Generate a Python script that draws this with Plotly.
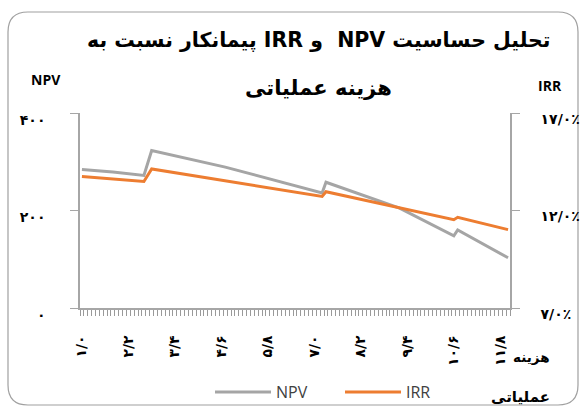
import plotly.graph_objects as go

# ---------------- data ----------------
cost = [1.0, 1.8, 2.6, 2.8, 4.7, 7.2, 7.3, 9.2, 10.6, 10.7, 12.0]
npv = [284, 279, 272, 323, 289, 236, 258, 205, 148, 160, 103]
irr = [13.75, 13.62, 13.49, 14.13, 13.52, 12.72, 12.96, 12.13, 11.53, 11.65, 11.02]

x_tickvals = [1.0, 2.2, 3.4, 4.6, 5.8, 7.0, 8.2, 9.4, 10.6, 11.8]
x_ticktext = ["۱/۰", "۲/۲", "۳/۴", "۴/۶", "۵/۸", "۷/۰", "۸/۲", "۹/۴", "۱۰/۶", "۱۱/۸"]
npv_tickvals = [0, 200, 400]
npv_ticktext = ["۰", "۲۰۰", "۴۰۰"]
irr_tickvals = [7, 12, 17]
irr_ticktext = ["۷/۰٪", "۱۲/۰٪", "۱۷/۰٪"]

title_line1 = "تحلیل حساسیت NPV  و IRR پیمانکار نسبت به"
title_line2 = "هزینه عملیاتی"
x_title_1 = "هزینه"
x_title_2 = "عملیاتی"

# ---------------- layout geometry ----------------
W, H = 586, 409
L, R, T, B = 80, 76, 113, 101
PW, PH = W - L - R, H - T - B
X_RANGE = [0.95, 12.05]

def px(xp, yp):
    return (xp - L) / PW, 1 - (yp - T) / PH

GRAY = "#a5a5a5"
ORANGE = "#ed7d31"
AXIS = "#a6a6a6"
TXT = "#000000"
FONT = "DejaVu Sans, Noto Sans, sans-serif"
RLE, PDF = "\u202B", "\u202C"

fig = go.Figure()
fig.add_trace(go.Scatter(x=cost, y=npv, name="NPV", mode="lines",
                         line=dict(color=GRAY, width=3), yaxis="y"))
fig.add_trace(go.Scatter(x=cost, y=irr, name="IRR", mode="lines",
                         line=dict(color=ORANGE, width=3), yaxis="y2"))

# rounded border
x0, y0, x1, y1, r = 8, 12, 578, 405, 20
def P(a, b):
    u, v = px(a, b)
    return f"{u:.5f},{v:.5f}"
path = (f"M {P(x0+r,y0)} L {P(x1-r,y0)} Q {P(x1,y0)} {P(x1,y0+r)} "
        f"L {P(x1,y1-r)} Q {P(x1,y1)} {P(x1-r,y1)} L {P(x0+r,y1)} "
        f"Q {P(x0,y1)} {P(x0,y1-r)} L {P(x0,y0+r)} Q {P(x0,y0)} {P(x0+r,y0)} Z")

annotations = []
def ann(text, xp, yp, size, bold=False, xanchor="center", color=TXT, family=FONT):
    u, v = px(xp, yp)
    annotations.append(dict(text=f"<b>{text}</b>" if bold else text, x=u, y=v,
                            xref="paper", yref="paper", showarrow=False,
                            xanchor=xanchor, yanchor="middle",
                            font=dict(size=size, color=color, family=family)))

ann(RLE + title_line1 + PDF, 319, 40, 20.5, bold=True)
ann(RLE + title_line2 + PDF, 318, 88, 21, bold=True)
ann("NPV", 46, 79, 14, bold=True, family="Open Sans, sans-serif")
ann("IRR", 550, 85, 14, bold=True, family="Open Sans, sans-serif")
ann(x_title_1, 552, 357, 13.5, bold=True, xanchor="right")
ann(x_title_2, 552, 397, 15, bold=True, xanchor="right")

tickfont = dict(size=14, color=TXT, family=FONT, weight="bold")

fig.update_layout(
    width=W, height=H,
    margin=dict(l=L, r=R, t=T, b=B, autoexpand=False),
    paper_bgcolor="white", plot_bgcolor="rgba(0,0,0,0)",
    font=dict(family=FONT, color=TXT),
    showlegend=True,
    legend=dict(orientation="h", x=px(210, 0)[0], y=px(0, 392)[1],
                xanchor="left", yanchor="middle",
                font=dict(size=16, color="#404040", family="Open Sans, sans-serif"),
                bgcolor="rgba(0,0,0,0)", itemwidth=56,
                entrywidth=59, entrywidthmode="pixels"),
    xaxis=dict(range=X_RANGE, tickmode="array", tickvals=x_tickvals,
               ticktext=x_ticktext, tickangle=-90,
               ticks="outside", ticklen=20, tickcolor="rgba(0,0,0,0)",
               showline=True, linecolor=AXIS, linewidth=1.5, automargin=False,
               showgrid=False, zeroline=False,
               tickfont=dict(size=14, color=TXT, family=FONT, weight="bold"),
               minor=dict(ticks="outside", tickmode="linear", tick0=0.95,
                          dtick=0.1, ticklen=6, tickcolor="#9a9a9a",
                          tickwidth=1, showgrid=False)),
    yaxis=dict(range=[0, 400], tickmode="array", tickvals=npv_tickvals,
               ticktext=npv_ticktext, ticks="outside", ticklen=8, automargin=False,
               tickcolor=AXIS, showline=True, linecolor=AXIS, linewidth=1.5,
               showgrid=False, zeroline=False, ticklabelstandoff=22,
               ticklabelshift=7, tickfont=tickfont),
    yaxis2=dict(range=[7, 17], overlaying="y", side="right", tickmode="array",
                tickvals=irr_tickvals, ticktext=irr_ticktext, ticks="outside",
                ticklen=8, tickcolor=AXIS, showline=True, linecolor=AXIS,
                linewidth=1.5, showgrid=False, zeroline=False, automargin=False,
                ticklabelstandoff=18, ticklabelshift=6,
                tickfont=tickfont),
    shapes=[dict(type="path", path=path, xref="paper", yref="paper",
                 line=dict(color="#a0a0a0", width=1.2), layer="below")],
    annotations=annotations,
)

fig.write_html(
    "out.html",
    post_script=("document.body.style.margin='0';"
                 "var s=document.createElement('style');"
                 "s.textContent='.modebar-container{display:none !important;}';"
                 "document.head.appendChild(s);"),
)
